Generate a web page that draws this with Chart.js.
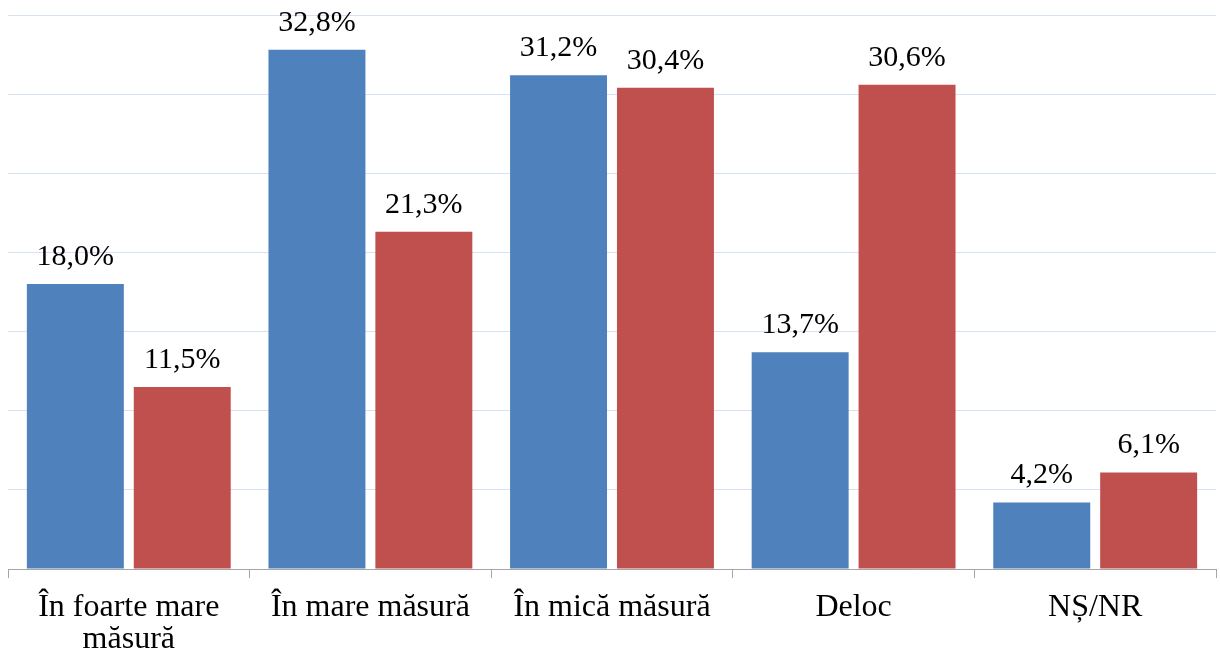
<!DOCTYPE html>
<html>
<head>
<meta charset="utf-8">
<script src="https://cdn.jsdelivr.net/npm/chart.js@4/dist/chart.umd.min.js"></script>
<style>
  html, body { margin: 0; padding: 0; background: #fff; }
  #wrap { width: 1220px; height: 658px; }
</style>
</head>
<body>
<div id="wrap"><canvas id="bars"></canvas></div>
<script>
const categories = [['În foarte mare', 'măsură'], 'În mare măsură', 'În mică măsură', 'Deloc', 'NȘ/NR'];
const seriesBlue = [18.0, 32.8, 31.2, 13.7, 4.2];
const seriesRed = [11.5, 21.3, 30.4, 30.6, 6.1];

const valueLabels = {
    id: 'valueLabels',
    afterDatasetsDraw(chart) {
        const c = chart.ctx;
        c.save();
        c.font = '30px "Liberation Serif", "Times New Roman", serif';
        c.fillStyle = '#000';
        c.textAlign = 'center';
        c.textBaseline = 'bottom';
        chart.data.datasets.forEach((ds, i) => {
            chart.getDatasetMeta(i).data.forEach((bar, j) => {
                c.fillText(ds.data[j].toFixed(1).replace('.', ',') + '%', bar.x, bar.y - 12);
            });
        });
        c.restore();
    }
};

const ctx = document.getElementById('bars').getContext('2d');
new Chart(ctx, {
    type: 'bar',
    data: {
        labels: categories,
        datasets: [{
            data: seriesBlue,
            backgroundColor: '#4F81BD'
        }, {
            data: seriesRed,
            backgroundColor: '#C0504D'
        }]
    },
    options: {
        responsive: true,
        maintainAspectRatio: false,
        animation: false,
        categoryPercentage: 0.885,
        barPercentage: 0.907,
        layout: { padding: { left: 8, right: 4, top: 15, bottom: 0 } },
        plugins: {
            legend: { display: false },
            tooltip: { enabled: false }
        },
        scales: {
            x: {
                afterFit(scale) { scale.height = 89; },
                grid: {
                    drawOnChartArea: false,
                    drawTicks: true,
                    tickLength: 9,
                    color: '#A6A6A6'
                },
                border: { color: '#A6A6A6' },
                ticks: {
                    color: '#000',
                    font: { family: '"Liberation Serif", "Times New Roman", serif', size: 32, lineHeight: 1.0 },
                    maxRotation: 0,
                    padding: 14
                }
            },
            y: {
                min: 0,
                max: 35,
                ticks: { display: false, stepSize: 5 },
                grid: { color: '#D6E1F4', drawTicks: false },
                border: { display: false }
            }
        }
    },
    plugins: [valueLabels]
});
</script>
</body>
</html>
